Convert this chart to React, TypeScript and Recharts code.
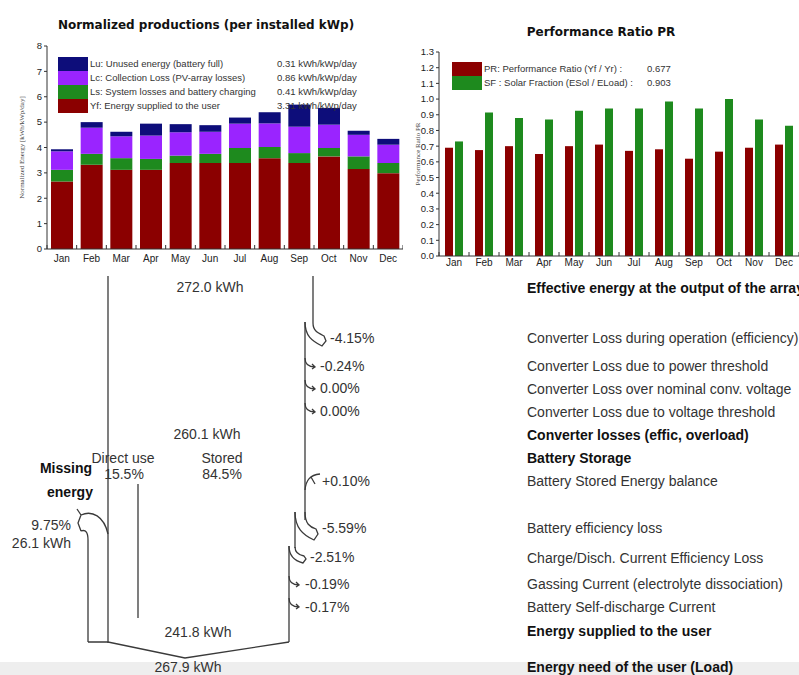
import React from 'react'
import { BarChart, Bar, XAxis, YAxis, Legend } from 'recharts'

const months = ['Jan', 'Feb', 'Mar', 'Apr', 'May', 'Jun', 'Jul', 'Aug', 'Sep', 'Oct', 'Nov', 'Dec']

// normalized productions [kWh/kWp/day], stacked bottom to top
const yfUser = [2.66, 3.32, 3.12, 3.12, 3.39, 3.39, 3.39, 3.58, 3.39, 3.65, 3.15, 2.99]
const lsSystem = [0.46, 0.43, 0.46, 0.43, 0.29, 0.36, 0.59, 0.44, 0.39, 0.33, 0.5, 0.4]
const lcCollection = [0.73, 1.03, 0.86, 0.92, 0.92, 0.87, 0.96, 0.93, 1.04, 0.92, 0.85, 0.72]
const luUnused = [0.08, 0.22, 0.18, 0.47, 0.32, 0.26, 0.24, 0.44, 0.87, 0.66, 0.16, 0.23]
const prodTicks = [0, 1, 2, 3, 4, 5, 6, 7, 8]

const prodLegendLabels = [
  'Lu: Unused energy (battery full)',
  'Lc: Collection Loss (PV-array losses)',
  'Ls: System losses and battery charging',
  'Yf: Energy supplied to the user',
]
const prodLegendValues = ['0.31 kWh/kWp/day', '0.86 kWh/kWp/day', '0.41 kWh/kWp/day', '3.31 kWh/kWp/day']

// performance ratio and solar fraction per month
const perfRatio = [0.69, 0.675, 0.7, 0.65, 0.7, 0.71, 0.67, 0.68, 0.62, 0.665, 0.69, 0.71]
const solarFraction = [0.73, 0.915, 0.88, 0.87, 0.925, 0.94, 0.94, 0.985, 0.94, 1.0, 0.87, 0.83]
const prTicks = [0, 0.1, 0.2, 0.3, 0.4, 0.5, 0.6, 0.7, 0.8, 0.9, 1.0, 1.1, 1.2, 1.3]
const prLegendLabels = ['PR: Performance Ratio (Yf / Yr) :', 'SF : Solar Fraction (ESol / ELoad) :']
const prLegendValues = ['0.677', '0.903']

// loss diagram
const energyLabels = ['272.0 kWh', '260.1 kWh', '241.8 kWh', '267.9 kWh']
const lossPercents = ['-4.15%', '-0.24%', '0.00%', '0.00%', '+0.10%', '-5.59%', '-2.51%', '-0.19%', '-0.17%']
const lossRowLabels = [
  'Effective energy at the output of the array',
  'Converter Loss during operation (efficiency)',
  'Converter Loss due to power threshold',
  'Converter Loss over nominal conv. voltage',
  'Converter Loss due to voltage threshold',
  'Converter losses (effic, overload)',
  'Battery Storage',
  'Battery Stored Energy balance',
  'Battery efficiency loss',
  'Charge/Disch. Current Efficiency Loss',
  'Gassing Current (electrolyte dissociation)',
  'Battery Self-discharge Current',
  'Energy supplied to the user',
  'Energy need of the user (Load)',
]
const lossRowBold = [true, false, false, false, false, true, true, false, false, false, false, false, true, true]
const storageSplit = ['15.5%', '84.5%']
const missingEnergy = ['9.75%', '26.1 kWh']

const NAVY = '#0d0d7a'
const PURPLE = '#9a24ff'
const GREEN = '#1e8a1e'
const RED = '#8b0000'
const AXIS = '#333'

const prodData = months.map((month, i) => ({
  month,
  yf: yfUser[i],
  ls: lsSystem[i],
  lc: lcCollection[i],
  lu: luUnused[i],
}))

const prData = months.map((month, i) => ({ month, pr: perfRatio[i], sf: solarFraction[i] }))

const minorTicks: number[] = []
for (let v = 0; v <= 130; v += 2) minorTicks.push(v / 100)

const sans = 'Liberation Sans, Arial, sans-serif'

// month label plus a small tick on the category boundary
const MonthTick = (props: any) => {
  const { x, y, payload, band, dy, index, count } = props
  return (
    <g>
      <line x1={x - band / 2} x2={x - band / 2} y1={y} y2={y - 4} stroke={AXIS} />
      {index === count - 1 && <line x1={x + band / 2} x2={x + band / 2} y1={y} y2={y - 4} stroke={AXIS} />}
      <text x={x} y={y + dy} textAnchor="middle" fontSize={10} fill="#222" fontFamily={sans}>
        {payload.value}
      </text>
    </g>
  )
}

const TopTick = (props: any) => {
  const { x, y, band } = props
  return <line x1={x - band / 2} x2={x - band / 2} y1={y} y2={y + 4} stroke={AXIS} />
}

const AxisTitle = (props: any) => {
  const { viewBox, value, x } = props
  const cy = viewBox && viewBox.height ? viewBox.y + viewBox.height / 2 : 150
  return (
    <text
      x={x}
      y={cy}
      transform={`rotate(-90 ${x} ${cy})`}
      textAnchor="middle"
      fontSize={7}
      fill="#444"
      fontFamily="Liberation Serif, serif"
    >
      {value}
    </text>
  )
}

const LegendBlock = ({ labels, values, colors, valueX }: any) => (
  <div style={{ position: 'relative', fontFamily: sans, fontSize: 9.5, color: '#333' }}>
    {labels.map((label: string, i: number) => (
      <div key={label} style={{ position: 'relative', height: 14, whiteSpace: 'nowrap' }}>
        <div style={{ position: 'absolute', left: 0, top: 0, width: 30, height: 14, background: colors[i] }} />
        <span style={{ position: 'absolute', left: 32, top: 1 }}>{label}</span>
        <span style={{ position: 'absolute', left: valueX, top: 1 }}>{values[i]}</span>
      </div>
    ))}
  </div>
)

const ProductionChart = () => {
  const band = (403 - 47) / 12
  return (
    <BarChart width={403} height={270} data={prodData} margin={{ top: 46, right: 0, bottom: 0, left: 0 }}>
      <XAxis
        dataKey="month"
        height={21}
        tickSize={0}
        tickMargin={0}
        interval={0}
        stroke={AXIS}
        tick={<MonthTick band={band} dy={12.5} count={12} />}
      />
      <XAxis
        xAxisId="top"
        dataKey="month"
        orientation="top"
        height={0}
        tickSize={0}
        tickMargin={0}
        interval={0}
        stroke={AXIS}
        tick={<TopTick band={band} />}
      />
      <YAxis
        width={47}
        domain={[0, 8]}
        ticks={prodTicks}
        interval={0}
        tickSize={3}
        stroke={AXIS}
        tick={{ fontSize: 9.5, fill: '#222', fontFamily: sans }}
        label={<AxisTitle x={21} value="Normalized Energy [kWh/kWp/day]" />}
      />
      <Legend
        layout="vertical"
        align="center"
        verticalAlign="middle"
        wrapperStyle={{ left: 58, top: 57, width: 320 }}
        content={() => (
          <LegendBlock
            labels={prodLegendLabels}
            values={prodLegendValues}
            colors={[NAVY, PURPLE, GREEN, RED]}
            valueX={219}
          />
        )}
      />
      <Bar dataKey="yf" stackId="p" fill={RED} barSize={22} isAnimationActive={false} />
      <Bar dataKey="ls" stackId="p" fill={GREEN} barSize={22} isAnimationActive={false} />
      <Bar dataKey="lc" stackId="p" fill={PURPLE} barSize={22} isAnimationActive={false} />
      <Bar dataKey="lu" stackId="p" fill={NAVY} barSize={22} isAnimationActive={false} />
    </BarChart>
  )
}

const RatioChart = () => {
  const band = (399 - 39) / 12
  return (
    <BarChart
      width={399}
      height={276}
      data={prData}
      barGap={2}
      margin={{ top: 52, right: 0, bottom: 0, left: 0 }}
    >
      <XAxis
        dataKey="month"
        height={20}
        tickSize={0}
        tickMargin={0}
        interval={0}
        stroke={AXIS}
        tick={<MonthTick band={band} dy={10} count={12} />}
      />
      <XAxis
        xAxisId="top"
        dataKey="month"
        orientation="top"
        height={0}
        tickSize={0}
        tickMargin={0}
        interval={0}
        stroke={AXIS}
        tick={<TopTick band={band} />}
      />
      <YAxis
        width={39}
        domain={[0, 1.3]}
        ticks={prTicks}
        interval={0}
        tickSize={3}
        stroke={AXIS}
        tickFormatter={(v: number) => v.toFixed(1)}
        tick={{ fontSize: 9.5, fill: '#222', fontFamily: sans }}
        label={<AxisTitle x={6} value="Performance Ratio PR" />}
      />
      <YAxis
        yAxisId="minor"
        mirror
        domain={[0, 1.3]}
        ticks={minorTicks}
        interval={0}
        tickSize={3}
        axisLine={false}
        tick={false}
        stroke={AXIS}
      />
      <Legend
        layout="vertical"
        align="center"
        verticalAlign="middle"
        wrapperStyle={{ left: 52, top: 62, width: 260 }}
        content={() => (
          <LegendBlock labels={prLegendLabels} values={prLegendValues} colors={[RED, GREEN]} valueX={195} />
        )}
      />
      <Bar dataKey="pr" fill={RED} barSize={8} isAnimationActive={false} />
      <Bar dataKey="sf" fill={GREEN} barSize={8} isAnimationActive={false} />
    </BarChart>
  )
}

// small "hook" arrow leaving a vertical flow line
const hook = (x: number, y: number) =>
  `M${x},${y} C${x},${y + 6} ${x + 3},${y + 9} ${x + 10},${y + 9} M${x + 7},${y + 6} L${x + 10},${y + 9} L${x + 7},${y + 11}`

const LossDiagram = () => {
  const t = { fontFamily: sans, fontSize: 14, fill: '#333' }
  const rowY = [288, 338, 366, 389, 412, 435, 458, 481, 528, 558, 584, 607, 631, 667]
  const pctPos = [
    [330, 338], [320, 366], [320, 388], [320, 411], [322, 481], [322, 528], [310, 557], [305, 584], [305, 607],
  ]
  return (
    <svg width={799} height={675} style={{ position: 'absolute', left: 0, top: 0, pointerEvents: 'none' }}>
      <rect x={0} y={662} width={799} height={13} fill="#eeeeee" />
      <text x={206} y={29} textAnchor="middle" fontFamily="DejaVu Sans, sans-serif" fontWeight="bold" fontSize={12} fill="#111">
        Normalized productions (per installed kWp)
      </text>
      <text x={601} y={36} textAnchor="middle" fontFamily="DejaVu Sans, sans-serif" fontWeight="bold" fontSize={12} fill="#111">
        Performance Ratio PR
      </text>

      <g stroke="#3a3a3a" strokeWidth={1.3} fill="none">
        <path d="M108,276 L108,643" />
        <path d="M313,276 L313,323" />
        <path d="M313,323 C313,331 318,333 324,336 L326,341 L322,346 C312,341 305,336 305,322" />
        <path d="M305,322 L305,520" />
        <path d={hook(305, 358)} />
        <path d={hook(305, 380)} />
        <path d={hook(305, 403)} />
        <path d="M320,474 C310,475 306,480 305,490 M311,477 L315,484" />
        <path d="M305,512 C305,524 310,527 316,529 L318,534 L314,540 C303,535 295,528 295,512" />
        <path d="M295,512 L295,548" />
        <path d="M295,547 C295,553 299,555 304,556 L306,559 L303,563 C295,561 289,557 289,546" />
        <path d="M289,546 L289,642" />
        <path d={hook(289, 576)} />
        <path d={hook(289, 598)} />
        <path d="M138,484 L138,618" />
        <path d="M77,509 L81,515 M81,515 C92,510 104,516 108,534 M81,515 L78,523 L81,531 M81,531 C86,529 88,533 88,540 L88,642" />
        <path d="M88,642 L108,642 L185,658 L289,642" />
      </g>

      <text {...t} x={210} y={292} textAnchor="middle">{energyLabels[0]}</text>
      <text {...t} x={207} y={439} textAnchor="middle">{energyLabels[1]}</text>
      <text {...t} x={198} y={637} textAnchor="middle">{energyLabels[2]}</text>
      <text {...t} x={188} y={672} textAnchor="middle">{energyLabels[3]}</text>

      {lossPercents.map((p, i) => (
        <text key={i} {...t} x={pctPos[i][0]} y={pctPos[i][1] + 5}>{p}</text>
      ))}

      <text {...t} x={123} y={463} textAnchor="middle">Direct use</text>
      <text {...t} x={222} y={463} textAnchor="middle">Stored</text>
      <text {...t} x={124} y={479} textAnchor="middle">{storageSplit[0]}</text>
      <text {...t} x={222} y={479} textAnchor="middle">{storageSplit[1]}</text>
      <text {...t} x={66} y={473} textAnchor="middle" fontWeight="bold" fill="#111">Missing</text>
      <text {...t} x={70} y={497} textAnchor="middle" fontWeight="bold" fill="#111">energy</text>
      <text {...t} x={71} y={530} textAnchor="end">{missingEnergy[0]}</text>
      <text {...t} x={71} y={548} textAnchor="end">{missingEnergy[1]}</text>

      {lossRowLabels.map((label, i) => (
        <text
          key={label}
          {...t}
          x={527}
          y={rowY[i] + 5}
          fontWeight={lossRowBold[i] ? 'bold' : 'normal'}
          fill={lossRowBold[i] ? '#111' : '#333'}
        >
          {label}
        </text>
      ))}
    </svg>
  )
}

export default function App() {
  return (
    <div style={{ position: 'absolute', left: 0, top: 0, width: 799, height: 675, background: '#fff', overflow: 'hidden' }}>
      <div style={{ position: 'absolute', left: 0, top: 0 }}>
        <ProductionChart />
      </div>
      <div style={{ position: 'absolute', left: 400, top: 0 }}>
        <RatioChart />
      </div>
      <LossDiagram />
    </div>
  )
}
